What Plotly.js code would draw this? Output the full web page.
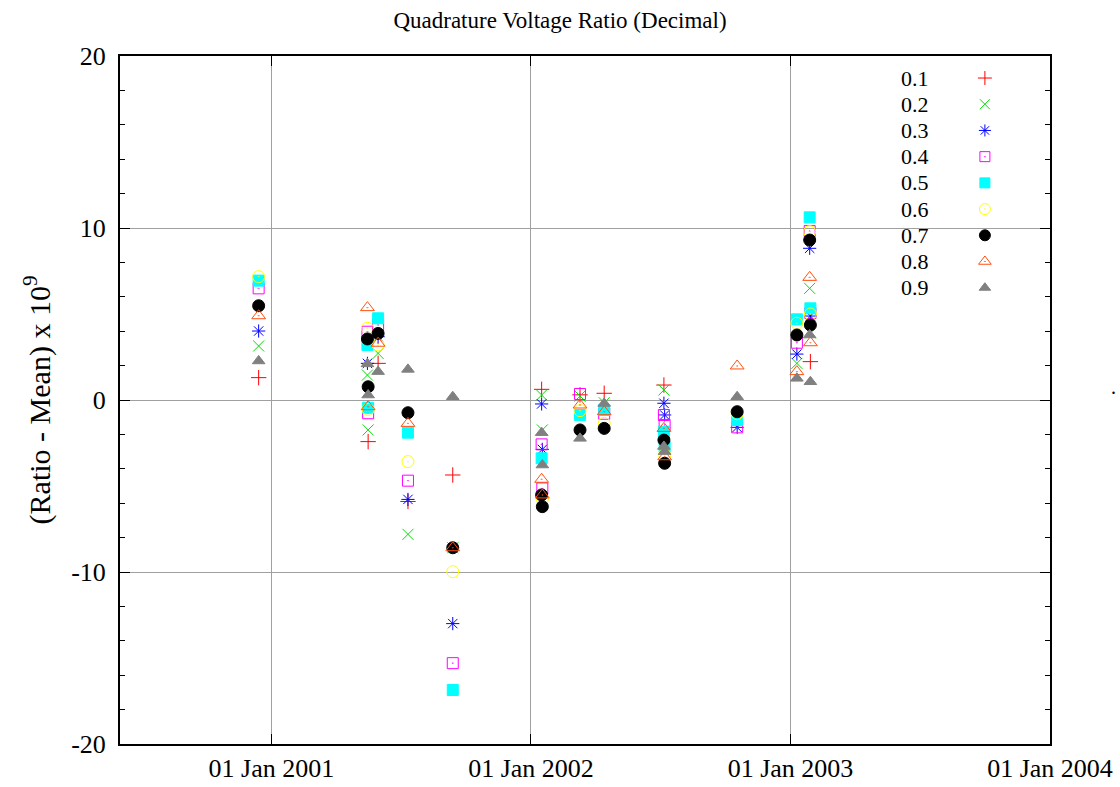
<!DOCTYPE html>
<html>
<head>
<meta charset="utf-8">
<script src="https://cdn.plot.ly/plotly-3.0.1.min.js"></script>
<style>html,body{margin:0;padding:0;background:#fff;}#chart{width:1120px;height:787px;}</style>
</head>
<body>
<div id="chart"></div>
<script>
// Measurement dates (two runs on near-identical days appear as separate entries)
const dates = ['2000-12-14','2001-05-16','2001-05-17','2001-05-31','2001-07-12','2001-09-13',
  '2002-01-16','2002-01-17','2002-03-11','2002-04-14','2002-07-07','2002-07-08',
  '2002-10-18','2003-01-10','2003-01-28','2003-01-29'];

const seriesNames = ['0.1','0.2','0.3','0.4','0.5','0.6','0.7','0.8','0.9'];

const s01 = [1.30, null, -2.42, 2.13, -5.90, -4.36, 0.62, null, 0.30, 0.39, 0.87, null, null, null, null, 2.23];
const s02 = [3.14, 1.45, -1.74, 2.71, -7.81, -8.59, 0.29, -1.74, 0.23, -0.16, 0.58, -1.90, null, 2.13, 6.49, 3.90];
const s03 = [4.01, 2.13, null, 3.68, -5.78, -13.0, -0.23, -2.87, null, null, -0.19, -0.87, -1.59, 2.67, 8.82, 4.88];
const s04 = [6.49, 3.97, -0.77, 4.36, -4.69, -15.3, -2.58, -5.14, 0.35, -0.80, -0.87, -1.45, -1.59, 3.33, 9.82, 5.05];
const s05 = [6.94, 3.20, -0.45, 4.75, -1.90, -16.86, -3.39, null, -0.87, -0.58, -1.84, -2.71, -1.16, 4.69, 10.62, 5.33];
const s06 = [7.17, 4.17, -0.55, 3.20, -3.58, -9.98, null, -5.76, -0.62, -1.36, null, -3.20, -0.80, 4.46, 9.79, 5.00];
const s07 = [5.48, 3.55, 0.77, 3.87, -0.74, -8.59, -5.52, -6.20, -1.74, -1.65, -2.33, -3.68, -0.68, 3.78, 9.30, 4.36];
const s08 = [4.90, 5.37, -0.39, 3.30, -1.36, -8.59, -4.61, -5.52, -0.29, -0.68, -1.65, -3.30, 1.98, 1.65, 7.13, 3.33];
const s09 = [2.27, 2.10, 0.29, 1.65, 1.78, 0.19, -1.90, -3.78, -2.23, -0.20, -2.70, -3.00, 0.19, 1.26, 3.78, 1.06];

const allSeries = [s01,s02,s03,s04,s05,s06,s07,s08,s09];

const yTickVals = [-20, -10, 0, 10, 20];
const yTickText = ['-20', '-10', '0', '10', '20'];

const styles = [
  {symbol:'cross-thin-open', color:'#ff0000', size:11},
  {symbol:'x-thin-open', color:'#00e000', size:11},
  {symbol:'asterisk-open', color:'#0000ff', size:11},
  {symbol:'square-open-dot', color:'#ff00ff', size:11},
  {symbol:'square', color:'#00ffff', size:11},
  {symbol:'circle-open-dot', color:'#ffff00', size:12},
  {symbol:'circle', color:'#000000', size:12},
  {symbol:'triangle-up-open-dot', color:'#ff5010', size:12},
  {symbol:'triangle-up', color:'#808080', size:11}
];

const serif = '"Liberation Serif", "Times New Roman", serif';

const traces = allSeries.map((vals, i) => ({
  type:'scatter', mode:'markers', x:dates, y:vals, name:seriesNames[i],
  showlegend:false, cliponaxis:false,
  marker:{symbol:styles[i].symbol, size:styles[i].size, color:styles[i].color, opacity:1,
          line:{color:styles[i].color, width:1}}
}));

// Legend keys drawn on an overlay axis (0..1) so text sits left of the marker as in the original
const keyX = 0.93, keyTop = 0.968, keyStep = 0.0381;
traces.push({
  type:'scatter', mode:'markers', xaxis:'x2', yaxis:'y2', showlegend:false, hoverinfo:'skip',
  x: seriesNames.map(() => keyX),
  y: seriesNames.map((_, i) => keyTop - i*keyStep),
  marker:{symbol:styles.map(s=>s.symbol), size:styles.map(s=>s.size-1), color:styles.map(s=>s.color),
          opacity:1, line:{color:styles.map(s=>s.color), width:1}}
});

const annotations = seriesNames.map((n, i) => ({
  xref:'paper', yref:'paper', x:0.855, y:keyTop - i*keyStep, text:n, showarrow:false,
  xanchor:'center', yanchor:'middle', font:{family:serif, size:22, color:'#000'}
}));
annotations.push({xref:'paper', yref:'paper', x:1.068, y:0.5, text:'.', showarrow:false,
  xanchor:'center', yanchor:'bottom', font:{family:serif, size:20, color:'#000'}});

const layout = {
  width:1120, height:787,
  margin:{l:120, r:70, t:56, b:43},
  paper_bgcolor:'#fff', plot_bgcolor:'#fff',
  title:{text:'Quadrature Voltage Ratio (Decimal)', x:0.5, xanchor:'center', y:0.975, yanchor:'middle',
         font:{family:serif, size:23, color:'#000'}},
  font:{family:serif, color:'#000'},
  xaxis:{type:'date', range:['2000-06-02','2004-01-01'], tick0:'2001-01-01', dtick:'M12',
    tickformat:'%d %b %Y', ticks:'inside', ticklen:10, tickwidth:1, tickcolor:'#000',
    showline:true, linecolor:'#000', linewidth:2, mirror:'ticks',
    showgrid:true, gridcolor:'#a0a0a0', gridwidth:1, zeroline:false,
    tickfont:{family:serif, size:26, color:'#000'}},
  yaxis:{range:[-20,20], tickmode:'array', tickvals:yTickVals, ticktext:yTickText,
    ticks:'inside', ticklen:10, tickwidth:1, tickcolor:'#000', ticklabelstandoff:7,
    showline:true, linecolor:'#000', linewidth:2, mirror:'ticks',
    showgrid:true, gridcolor:'#a0a0a0', gridwidth:1, zeroline:false,
    minor:{dtick:2, ticks:'inside', ticklen:5, tickcolor:'#000', showgrid:false},
    tickfont:{family:serif, size:26, color:'#000'},
    title:{text:'(Ratio - Mean) x 10<sup>9</sup>', standoff:12, font:{family:serif, size:30, color:'#000'}}},
  xaxis2:{overlaying:'x', range:[0,1], visible:false, fixedrange:true},
  yaxis2:{overlaying:'y', range:[0,1], visible:false, fixedrange:true},
  shapes:[{type:'rect', xref:'paper', yref:'paper', x0:0.823, x1:0.996, y0:0.645, y1:0.99,
    fillcolor:'#fff', line:{width:0}, layer:'between'}],
  annotations:annotations,
  showlegend:false
};

Plotly.newPlot('chart', traces, layout, {staticPlot:true});
</script>
</body>
</html>
